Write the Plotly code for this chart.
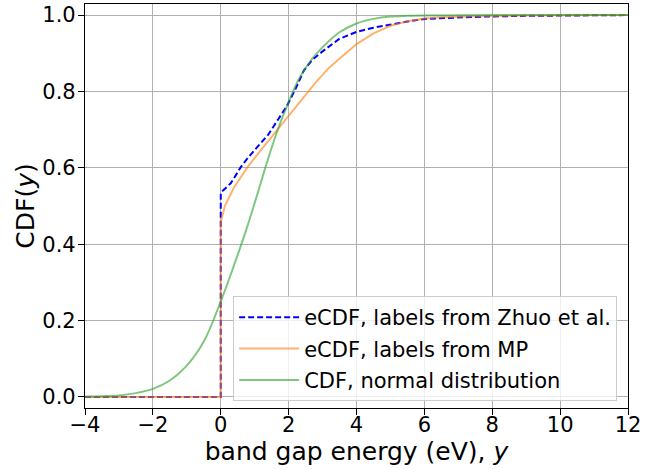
import plotly.graph_objects as go

# eCDF with labels from Zhuo et al.
zhuo_x = [-4, 0, 0, 0.3, 0.6, 0.8, 1.1, 1.4, 1.7, 1.95, 2.2, 2.45, 2.7, 3.0, 3.5,
          4.0, 4.5, 5.0, 5.5, 6.0, 6.8, 7.7, 9, 12]
zhuo_y = [0, 0, 0.535, 0.56, 0.603, 0.626, 0.657, 0.687, 0.728, 0.762, 0.806, 0.855,
          0.883, 0.905, 0.938, 0.956, 0.967, 0.976, 0.983, 0.99, 0.993, 0.996, 0.998, 1.0]

# eCDF with labels from MP
mp_x = [-4, 0, 0, 0.12, 0.4, 0.8, 1.2, 1.6, 2.0, 2.4, 2.8, 3.2, 3.6, 4.0, 4.5,
        5.0, 5.5, 6.0, 6.5, 7.5, 9, 12]
mp_y = [0, 0, 0.457, 0.50, 0.55, 0.603, 0.648, 0.692, 0.735, 0.779, 0.824, 0.863,
        0.893, 0.924, 0.952, 0.972, 0.984, 0.991, 0.994, 0.997, 0.999, 1.0]

# CDF of the fitted normal distribution
norm_x = [-4, -3.5, -3, -2.5, -2, -1.5, -1, -0.5, 0, 0.4, 0.76, 1.1, 1.4, 1.7, 2.0,
          2.3, 2.67, 3.07, 3.5, 4.0, 4.5, 5.0, 5.5, 6, 8, 12]
norm_y = [0.001, 0.002, 0.004, 0.01, 0.021, 0.043, 0.082, 0.145, 0.25, 0.347, 0.44,
          0.537, 0.625, 0.705, 0.772, 0.832, 0.883, 0.922, 0.955, 0.978, 0.99, 0.996,
          0.998, 0.999, 1.0, 1.0]

x_ticks = [-4, -2, 0, 2, 4, 6, 8, 10, 12]
x_ticklabels = ["\u22124", "\u22122", "0", "2", "4", "6", "8", "10", "12"]
y_ticks = [0, 0.2, 0.4, 0.6, 0.8, 1.0]
y_ticklabels = ["0.0", "0.2", "0.4", "0.6", "0.8", "1.0"]

fig = go.Figure()

fig.add_trace(go.Scatter(
    x=zhuo_x, y=zhuo_y, mode="lines",
    line=dict(color="#0000ff", width=2, dash="6px,3px"),
    name="eCDF, labels from Zhuo et al.", legendgroup="a"
))
fig.add_trace(go.Scatter(
    x=mp_x, y=mp_y, mode="lines",
    line=dict(color="rgba(255,127,14,0.6)", width=2),
    name="eCDF, labels from MP", legendgroup="b"
))
fig.add_trace(go.Scatter(
    x=norm_x, y=norm_y, mode="lines",
    line=dict(color="rgba(44,160,44,0.6)", width=2, shape="spline"),
    name="CDF, normal distribution", legendgroup="c"
))

axis_style = dict(
    showgrid=True, gridcolor="#b0b0b0", gridwidth=1,
    ticks="outside", ticklen=6, tickcolor="black", tickwidth=1,
    showline=True, mirror=True, linecolor="black", linewidth=1.2,
    zeroline=False, automargin=False,
)

fig.update_layout(
    width=665, height=469,
    margin=dict(l=85, r=37, t=4, b=61),
    paper_bgcolor="white", plot_bgcolor="white",
    font=dict(family="DejaVu Sans", size=21, color="black"),
    xaxis=dict(range=[-4, 12], tickvals=x_ticks, ticktext=x_ticklabels,
               ticklabelstandoff=-8,
               title=dict(text="band gap energy (eV), <i>y</i>", standoff=6),
               **axis_style),
    yaxis=dict(range=[-0.029, 1.029], tickvals=y_ticks, ticktext=y_ticklabels,
               ticklabelstandoff=-2,
               title=dict(text="CDF(<i>y</i>)", standoff=0),
               **axis_style),
    legend=dict(x=0.98, y=0.017, xanchor="right", yanchor="bottom",
                bgcolor="rgba(255,255,255,0.8)", bordercolor="#cccccc",
                borderwidth=1, font=dict(size=21), itemwidth=60,
                traceorder="grouped", tracegroupgap=1),
    showlegend=True,
)

# drop the default 8px page margin so the figure sits at the window origin
fig.write_html("out.html", config={"displayModeBar": False},
               post_script="document.body.style.margin='0px';")
